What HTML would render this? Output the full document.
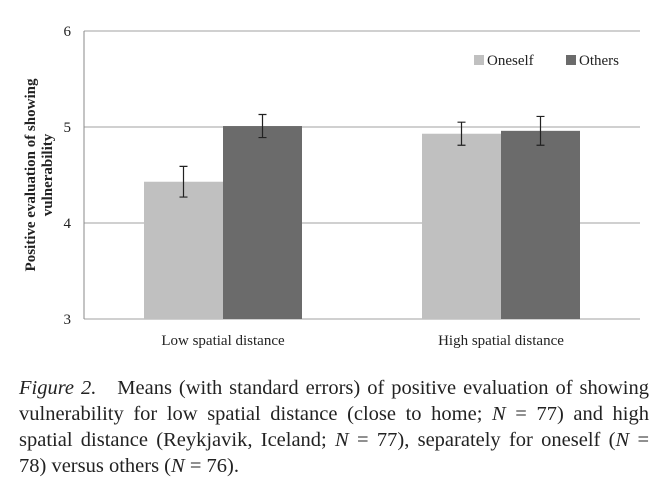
<!DOCTYPE html>
<html><head><meta charset="utf-8"><style>
body{margin:0;background:#fff;width:659px;height:495px;overflow:hidden;font-family:"Liberation Serif",serif}
#cap{position:absolute;left:19px;top:375px;width:630px;font-size:20.5px;line-height:26px;color:#222}
#cap .j{text-align:justify;text-align-last:justify;white-space:nowrap}
</style></head><body>
<svg id="chart" width="659" height="370" style="position:absolute;left:0;top:0" font-family="Liberation Serif, serif"></svg>
<div id="cap">
<div class="j"><i>Figure 2.</i>&nbsp;&nbsp; Means (with standard errors) of positive evaluation of showing</div>
<div class="j">vulnerability for low spatial distance (close to home; <i>N</i> = 77) and high</div>
<div class="j">spatial distance (Reykjavik, Iceland; <i>N</i> = 77), separately for oneself (<i>N</i> =</div>
<div>78) versus others (<i>N</i> = 76).</div>
</div>
<script>
const categories=["Low spatial distance","High spatial distance"];
const seriesNames=["Oneself","Others"];
const oneself=[4.43,4.93];
const others=[5.01,4.96];
const oneselfErr=[0.16,0.12];
const othersErr=[0.12,0.15];
const ticks=[3,4,5,6];
const colors=["#c0c0c0","#6b6b6b"];
const svg=document.getElementById('chart');
const NS="http://www.w3.org/2000/svg";
const x0=84,x1=640,yTop=31,yBot=319,vmin=3,vmax=6;
const y=v=>yBot-(v-vmin)/(vmax-vmin)*(yBot-yTop);
const groupW=(x1-x0)/categories.length, barW=79;
function mk(t,a,p){const e=document.createElementNS(NS,t);for(const k in a)e.setAttribute(k,a[k]);(p||svg).appendChild(e);return e;}
ticks.forEach(t=>{
  const g=mk('line',{x1:x0,x2:x1,y1:y(t),y2:y(t),stroke:'#a0a0a0','stroke-width':1});
  
  
  const l=mk('text',{x:x0-13,y:y(t)+5,'text-anchor':'end','font-size':15,fill:'#222'});l.textContent=t;
  
  
});
const ax=mk('line',{x1:x0,x2:x0,y1:yTop,y2:yBot,stroke:'#888'});


const series=[oneself,others],errs=[oneselfErr,othersErr];
categories.forEach((c,i)=>{
  const cx=x0+groupW*(i+0.5);
  series.forEach((s,j)=>{
    const bx=cx-barW+j*barW;
    const r=mk('rect',{x:bx,y:y(s[i]),width:barW,height:yBot-y(s[i]),fill:colors[j]});
    
    
    const mx=bx+barW/2,hi=y(s[i]+errs[j][i]),lo=y(s[i]-errs[j][i]);
    const e=mk('path',{d:`M${mx},${hi}V${lo}M${mx-4},${hi}H${mx+4}M${mx-4},${lo}H${mx+4}`,stroke:'#222','stroke-width':1.2,fill:'none'});
    
    
  });
  const t=mk('text',{x:cx,y:345,'text-anchor':'middle','font-size':15,fill:'#222'});t.textContent=c;
  
  
});
const yt=mk('text',{transform:'translate(38,175) rotate(-90)','text-anchor':'middle','font-size':15,'font-weight':'bold',fill:'#222'});


const t1=mk('tspan',{x:0,dy:-3},yt);t1.textContent='Positive evaluation of showing';
const t2=mk('tspan',{x:0,dy:17},yt);t2.textContent='vulnerability';
seriesNames.forEach((n,j)=>{
  const lx=[474,566][j];
  const r=mk('rect',{x:lx,y:55,width:10,height:10,fill:colors[j]});
  
  
  const t=mk('text',{x:lx+13,y:65,'font-size':15,fill:'#222'});t.textContent=n;
  
  
});
</script>
</body></html>
